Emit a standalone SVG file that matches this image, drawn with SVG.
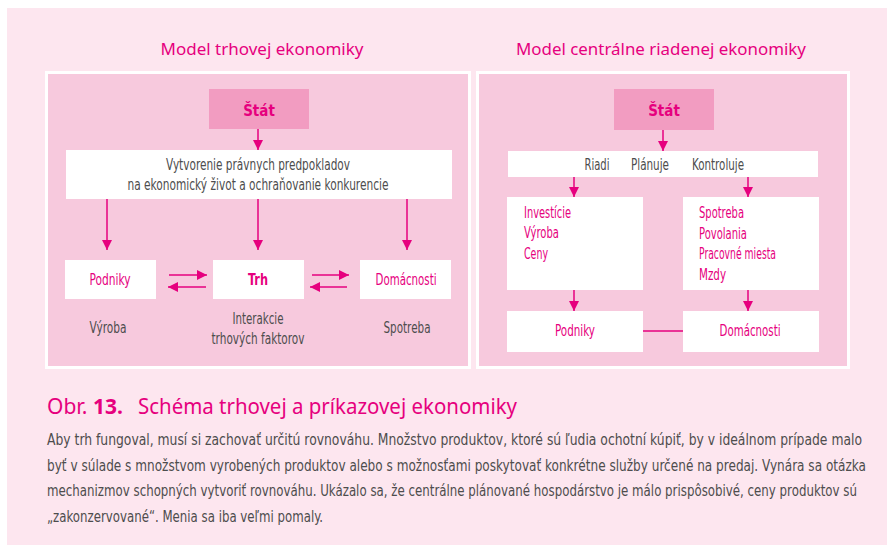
<svg xmlns="http://www.w3.org/2000/svg" width="887" height="547" viewBox="0 0 887 547">
<defs>
<style>
.bg{fill:#fde6ef}
.frame{fill:#ffffff}
.panel{fill:#f7c9dd}
.box{fill:#ffffff}
.state{fill:#f29cc1}
.title{font-family:"Noto Sans","Liberation Sans",sans-serif;font-size:17px;fill:#e6007e;text-anchor:middle}
.t{font-family:"Liberation Sans Narrow","DejaVu Sans Condensed","Liberation Sans",sans-serif;font-size:15px;fill:#4d4d4d}
.p{font-family:"Liberation Sans Narrow","DejaVu Sans Condensed","Liberation Sans",sans-serif;font-size:15px;fill:#e6007e}
.b{font-weight:bold}
.c{text-anchor:middle}
.ln{stroke:#e6007e;stroke-width:1.5;fill:none}
.cap{font-family:"Noto Sans","Liberation Sans",sans-serif;font-size:21px;fill:#e6007e}
.body{font-family:"Liberation Sans Narrow","DejaVu Sans Condensed","Liberation Sans",sans-serif;font-size:15.5px;fill:#4d4d4d}
</style>
<marker id="ah" viewBox="0 0 10 10" refX="10" refY="5" markerWidth="10" markerHeight="10" markerUnits="userSpaceOnUse" orient="auto">
<path d="M0,0 L10,5 L0,10 z" fill="#e6007e"/>
</marker>
</defs>
<rect x="0" y="0" width="887" height="547" fill="#ffffff"/>
<rect class="bg" x="7" y="8" width="880" height="537"/>

<text class="title" x="262" y="55" textLength="203" lengthAdjust="spacingAndGlyphs">Model trhovej ekonomiky</text>
<text class="title" x="661" y="55" textLength="290" lengthAdjust="spacingAndGlyphs">Model centrálne riadenej ekonomiky</text>

<g id="panel-left">
<rect class="frame" x="45" y="71" width="426" height="298"/>
<rect class="panel" x="48" y="74" width="420" height="292"/>
</g>
<g id="panel-right">
<rect class="frame" x="476" y="71" width="374" height="298"/>
<rect class="panel" x="479" y="74" width="368" height="292"/>
</g>

<g id="connectors">
<line class="ln" x1="258" y1="129" x2="258" y2="150" marker-end="url(#ah)"/>
<line class="ln" x1="107" y1="199" x2="107" y2="250" marker-end="url(#ah)"/>
<line class="ln" x1="258" y1="199" x2="258" y2="250" marker-end="url(#ah)"/>
<line class="ln" x1="407" y1="199" x2="407" y2="250" marker-end="url(#ah)"/>
<line class="ln" x1="169" y1="275" x2="207" y2="275" marker-end="url(#ah)"/>
<line class="ln" x1="206" y1="287" x2="168" y2="287" marker-end="url(#ah)"/>
<line class="ln" x1="312" y1="275" x2="349" y2="275" marker-end="url(#ah)"/>
<line class="ln" x1="347" y1="287" x2="310" y2="287" marker-end="url(#ah)"/>
<line class="ln" x1="663" y1="130" x2="663" y2="151" marker-end="url(#ah)"/>
<line class="ln" x1="574" y1="177" x2="574" y2="197" marker-end="url(#ah)"/>
<line class="ln" x1="748" y1="177" x2="748" y2="197" marker-end="url(#ah)"/>
<line class="ln" x1="574" y1="290" x2="574" y2="311" marker-end="url(#ah)"/>
<line class="ln" x1="748" y1="290" x2="748" y2="311" marker-end="url(#ah)"/>
<line class="ln" x1="643" y1="331" x2="683" y2="331"/>
</g>

<g id="stat-left">
<rect class="state" x="209" y="89" width="100" height="40"/>
<text class="p b c" x="259" y="116" font-size="16">Štát</text>
</g>
<g id="pravne">
<rect class="box" x="66" y="150" width="386" height="49"/>
<text class="t c" x="258" y="170" textLength="184" lengthAdjust="spacingAndGlyphs">Vytvorenie právnych predpokladov</text>
<text class="t c" x="258" y="190" textLength="261" lengthAdjust="spacingAndGlyphs">na ekonomický život a ochraňovanie konkurencie</text>
</g>
<g id="podniky-left">
<rect class="box" x="65" y="260" width="91" height="39"/>
<text class="p c" x="110" y="285" textLength="41" lengthAdjust="spacingAndGlyphs">Podniky</text>
</g>
<g id="trh">
<rect class="box" x="213" y="260" width="91" height="39"/>
<text class="p b c" x="258" y="285" textLength="20" lengthAdjust="spacingAndGlyphs">Trh</text>
</g>
<g id="domacnosti-left">
<rect class="box" x="360" y="260" width="91" height="39"/>
<text class="p c" x="406" y="285" textLength="61" lengthAdjust="spacingAndGlyphs">Domácnosti</text>
</g>
<g id="labels-left">
<text class="t c" x="108" y="333" textLength="37" lengthAdjust="spacingAndGlyphs">Výroba</text>
<text class="t c" x="258" y="324" textLength="51" lengthAdjust="spacingAndGlyphs">Interakcie</text>
<text class="t c" x="258" y="344" textLength="93" lengthAdjust="spacingAndGlyphs">trhových faktorov</text>
<text class="t c" x="407" y="333" textLength="47" lengthAdjust="spacingAndGlyphs">Spotreba</text>
</g>

<g id="stat-right">
<rect class="state" x="614" y="89" width="100" height="41"/>
<text class="p b c" x="664" y="116" font-size="16">Štát</text>
</g>
<g id="riadi">
<rect class="box" x="508" y="151" width="310" height="26"/>
<text class="t c" x="597" y="170" textLength="25" lengthAdjust="spacingAndGlyphs">Riadi</text>
<text class="t c" x="650" y="170" textLength="38" lengthAdjust="spacingAndGlyphs">Plánuje</text>
<text class="t c" x="718" y="170" textLength="52" lengthAdjust="spacingAndGlyphs">Kontroluje</text>
</g>
<g id="list-left">
<rect class="box" x="507" y="197" width="136" height="93"/>
<text class="p" x="524" y="218" textLength="47" lengthAdjust="spacingAndGlyphs">Investície</text>
<text class="p" x="524" y="238" textLength="35" lengthAdjust="spacingAndGlyphs">Výroba</text>
<text class="p" x="524" y="259" textLength="24" lengthAdjust="spacingAndGlyphs">Ceny</text>
</g>
<g id="list-right">
<rect class="box" x="683" y="197" width="136" height="93"/>
<text class="p" x="699" y="218" textLength="45" lengthAdjust="spacingAndGlyphs">Spotreba</text>
<text class="p" x="699" y="239" textLength="48" lengthAdjust="spacingAndGlyphs">Povolania</text>
<text class="p" x="699" y="259" textLength="77" lengthAdjust="spacingAndGlyphs">Pracovné miesta</text>
<text class="p" x="699" y="280" textLength="27" lengthAdjust="spacingAndGlyphs">Mzdy</text>
</g>
<g id="podniky-right">
<rect class="box" x="507" y="311" width="136" height="41"/>
<text class="p c" x="575" y="336" textLength="40" lengthAdjust="spacingAndGlyphs">Podniky</text>
</g>
<g id="domacnosti-right">
<rect class="box" x="683" y="311" width="136" height="41"/>
<text class="p c" x="750" y="336" textLength="61" lengthAdjust="spacingAndGlyphs">Domácnosti</text>
</g>

<g id="caption">
<text class="cap" x="47" y="414"><tspan>Obr.</tspan><tspan x="93" font-weight="bold">13.</tspan><tspan x="138" textLength="379" lengthAdjust="spacingAndGlyphs">Schéma trhovej a príkazovej ekonomiky</tspan></text>
<text class="body" x="47" y="445" textLength="815" lengthAdjust="spacingAndGlyphs">Aby trh fungoval, musí si zachovať určitú rovnováhu. Množstvo produktov, ktoré sú ľudia ochotní kúpiť, by v ideálnom prípade malo</text>
<text class="body" x="47" y="470.5" textLength="819" lengthAdjust="spacingAndGlyphs">byť v súlade s množstvom vyrobených produktov alebo s možnosťami poskytovať konkrétne služby určené na predaj. Vynára sa otázka</text>
<text class="body" x="47" y="496" textLength="810" lengthAdjust="spacingAndGlyphs">mechanizmov schopných vytvoriť rovnováhu. Ukázalo sa, že centrálne plánované hospodárstvo je málo prispôsobivé, ceny produktov sú</text>
<text class="body" x="47" y="521.5" textLength="276" lengthAdjust="spacingAndGlyphs">„zakonzervované“. Menia sa iba veľmi pomaly.</text>
</g>
</svg>
